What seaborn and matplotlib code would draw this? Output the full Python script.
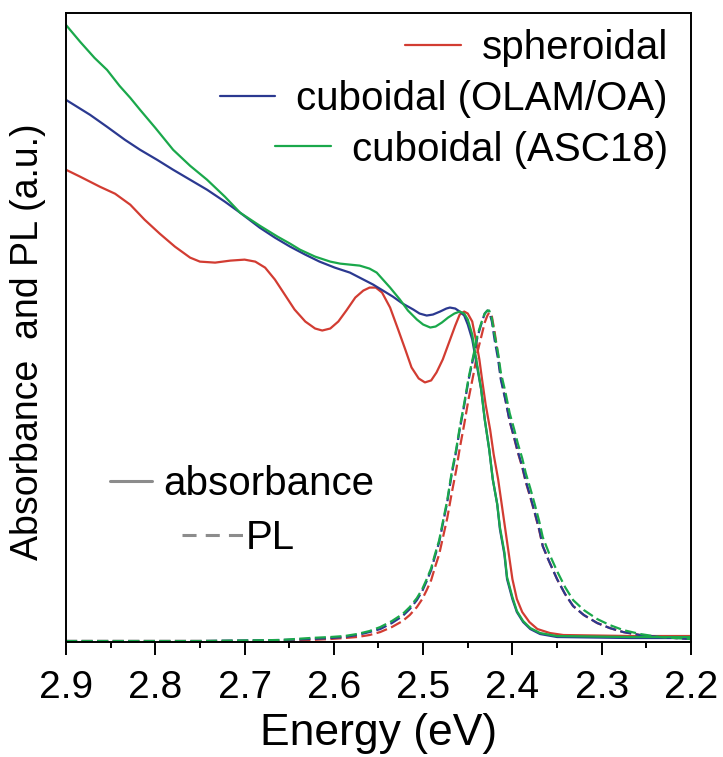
import numpy as np
import pandas as pd
import seaborn as sns
import matplotlib.pyplot as plt
from matplotlib.lines import Line2D

# absorbance spectra (energy in eV, intensity in a.u.)
E_abs_sph = [2.900, 2.884, 2.862, 2.845, 2.828, 2.812, 2.795, 2.778, 2.761, 2.750, 2.733,
             2.716, 2.700, 2.688, 2.677, 2.666, 2.655, 2.644, 2.632, 2.621, 2.613, 2.604,
             2.595, 2.586, 2.576, 2.567, 2.560, 2.553, 2.546, 2.537, 2.528, 2.520, 2.513,
             2.505, 2.498, 2.491, 2.485, 2.478, 2.471, 2.464, 2.459, 2.454, 2.450, 2.445,
             2.441, 2.437, 2.434, 2.430, 2.425, 2.421, 2.416, 2.412, 2.408, 2.404, 2.400,
             2.395, 2.389, 2.381, 2.372, 2.358, 2.343, 2.268, 2.200]
A_sph = [4.72, 4.65, 4.55, 4.48, 4.37, 4.22, 4.08, 3.95, 3.84, 3.80, 3.79,
         3.81, 3.82, 3.80, 3.74, 3.62, 3.47, 3.32, 3.20, 3.13, 3.11, 3.13,
         3.20, 3.31, 3.44, 3.51, 3.54, 3.54, 3.49, 3.34, 3.12, 2.92, 2.74,
         2.63, 2.59, 2.61, 2.69, 2.82, 2.99, 3.16, 3.27, 3.30, 3.28, 3.20,
         3.02, 2.82, 2.62, 2.37, 2.12, 1.87, 1.62, 1.37, 1.12, 0.87, 0.62,
         0.42, 0.29, 0.19, 0.12, 0.08, 0.06, 0.05, 0.05]

E_abs_olam = [2.900, 2.873, 2.854, 2.834, 2.817, 2.798, 2.780, 2.761, 2.742, 2.722, 2.705,
              2.683, 2.666, 2.649, 2.632, 2.616, 2.599, 2.582, 2.569, 2.556, 2.545, 2.534,
              2.523, 2.511, 2.504, 2.496, 2.489, 2.481, 2.474, 2.470, 2.464, 2.459, 2.454,
              2.450, 2.445, 2.442, 2.439, 2.435, 2.431, 2.426, 2.422, 2.417, 2.414, 2.409,
              2.406, 2.400, 2.395, 2.388, 2.380, 2.369, 2.350, 2.268, 2.200]
A_olam = [5.42, 5.27, 5.15, 5.02, 4.92, 4.82, 4.72, 4.62, 4.52, 4.40, 4.29,
          4.14, 4.04, 3.95, 3.87, 3.80, 3.74, 3.69, 3.63, 3.57, 3.51, 3.45,
          3.38, 3.32, 3.28, 3.26, 3.27, 3.30, 3.33, 3.34, 3.33, 3.30, 3.26,
          3.17, 3.02, 2.87, 2.72, 2.52, 2.22, 1.92, 1.62, 1.37, 1.12, 0.87,
          0.62, 0.42, 0.29, 0.19, 0.12, 0.07, 0.04, 0.03, 0.03]

E_abs_asc = [2.900, 2.884, 2.868, 2.854, 2.840, 2.828, 2.817, 2.800, 2.780, 2.761, 2.742,
             2.722, 2.705, 2.683, 2.663, 2.649, 2.638, 2.621, 2.604, 2.593, 2.582, 2.571,
             2.560, 2.552, 2.545, 2.537, 2.526, 2.517, 2.507, 2.500, 2.492, 2.486, 2.479,
             2.472, 2.465, 2.459, 2.454, 2.450, 2.445, 2.442, 2.439, 2.435, 2.431, 2.426,
             2.422, 2.417, 2.414, 2.409, 2.406, 2.400, 2.395, 2.388, 2.380, 2.369, 2.350,
             2.268, 2.200]
A_asc = [6.17, 6.00, 5.84, 5.72, 5.56, 5.44, 5.32, 5.14, 4.92, 4.76, 4.62,
         4.45, 4.29, 4.16, 4.05, 3.98, 3.92, 3.85, 3.80, 3.78, 3.77, 3.76,
         3.73, 3.69, 3.62, 3.54, 3.42, 3.31, 3.22, 3.17, 3.14, 3.15, 3.19,
         3.24, 3.28, 3.30, 3.28, 3.22, 3.07, 2.90, 2.74, 2.52, 2.22, 1.92,
         1.62, 1.37, 1.14, 0.89, 0.64, 0.44, 0.30, 0.20, 0.13, 0.08, 0.05,
         0.04, 0.04]

# PL spectra (same energy grid for all three)
E_pl = [2.900, 2.750, 2.660, 2.627, 2.604, 2.588, 2.574, 2.560, 2.548, 2.535, 2.523,
        2.515, 2.507, 2.501, 2.496, 2.491, 2.487, 2.482, 2.478, 2.473, 2.468, 2.463,
        2.459, 2.454, 2.449, 2.443, 2.439, 2.434, 2.431, 2.428, 2.426, 2.423, 2.420,
        2.416, 2.413, 2.408, 2.403, 2.398, 2.394, 2.389, 2.385, 2.380, 2.375, 2.370,
        2.366, 2.359, 2.350, 2.341, 2.332, 2.320, 2.305, 2.291, 2.276, 2.257, 2.235,
        2.200]
PL_sph = [0.00, 0.00, 0.00, 0.01, 0.02, 0.03, 0.04, 0.06, 0.09, 0.14, 0.20,
          0.26, 0.34, 0.42, 0.51, 0.61, 0.73, 0.87, 1.03, 1.23, 1.48, 1.71,
          1.93, 2.17, 2.43, 2.70, 2.90, 3.08, 3.19, 3.26, 3.29, 3.25, 3.10,
          2.86, 2.64, 2.43, 2.20, 2.03, 1.89, 1.74, 1.59, 1.44, 1.28, 1.11,
          0.95, 0.80, 0.62, 0.47, 0.35, 0.26, 0.18, 0.13, 0.09, 0.06, 0.04,
          0.02]
PL_olam = [0.00, 0.00, 0.01, 0.02, 0.03, 0.04, 0.06, 0.09, 0.12, 0.18, 0.25,
           0.32, 0.41, 0.50, 0.60, 0.71, 0.84, 0.99, 1.17, 1.39, 1.67, 1.90,
           2.12, 2.36, 2.62, 2.87, 3.05, 3.20, 3.28, 3.31, 3.30, 3.20, 3.02,
           2.82, 2.62, 2.42, 2.20, 2.04, 1.90, 1.75, 1.60, 1.45, 1.29, 1.12,
           0.95, 0.80, 0.62, 0.47, 0.35, 0.26, 0.18, 0.13, 0.09, 0.06, 0.04,
           0.02]
PL_asc = [0.00, 0.00, 0.01, 0.03, 0.04, 0.05, 0.07, 0.10, 0.14, 0.20, 0.27,
          0.34, 0.43, 0.52, 0.62, 0.73, 0.86, 1.01, 1.19, 1.41, 1.69, 1.92,
          2.14, 2.38, 2.64, 2.89, 3.07, 3.21, 3.28, 3.31, 3.31, 3.23, 3.07,
          2.88, 2.69, 2.50, 2.28, 2.12, 1.98, 1.83, 1.68, 1.53, 1.37, 1.20,
          1.04, 0.88, 0.70, 0.54, 0.41, 0.31, 0.22, 0.16, 0.11, 0.07, 0.04,
          0.02]

labels = ['spheroidal', 'cuboidal (OLAM/OA)', 'cuboidal (ASC18)']
colors = ['#d23c32', '#2b3990', '#1aa84b']
tick_vals = [2.9, 2.8, 2.7, 2.6, 2.5, 2.4, 2.3, 2.2]

sns.set_style('ticks')
plt.rcParams['font.family'] = ['Liberation Sans', 'DejaVu Sans']
plt.rcParams['text.color'] = 'black'
plt.rcParams['axes.labelcolor'] = 'black'
plt.rcParams['xtick.color'] = 'black'

fig = plt.figure(figsize=(7.23, 7.57), dpi=100)
ax = fig.add_axes([0.0913, 0.1519, 0.8644, 0.8309])

abs_sets = [(E_abs_sph, A_sph), (E_abs_olam, A_olam), (E_abs_asc, A_asc)]
pl_sets = [PL_sph, PL_olam, PL_asc]

for (e, a), pl, c in zip(abs_sets, pl_sets, colors):
    sns.lineplot(x=e, y=a, color=c, lw=1.6, estimator=None, sort=False, ax=ax)
    sns.lineplot(x=E_pl, y=pl, color=c, lw=1.6, estimator=None, sort=False, ax=ax,
                 linestyle=(0, (5, 2)))

ax.set_xlim(2.9, 2.2)
ax.set_ylim(-0.01, 6.29)
ax.set_xticks(tick_vals)
ax.set_xticks(np.arange(2.25, 2.9, 0.1), minor=True)
ax.set_xticklabels(['%.1f' % v for v in tick_vals])
ax.set_yticks([])
ax.tick_params(axis='x', which='major', direction='out', length=9, width=1.4,
               labelsize=28, pad=11)
ax.tick_params(axis='x', which='minor', direction='out', length=4.5, width=1.4)
for s in ax.spines.values():
    s.set_linewidth(1.4)
    s.set_color('black')

ax.set_xlabel('Energy (eV)', fontsize=32, labelpad=5)
ax.set_ylabel('Absorbance  and PL (a.u.)', fontsize=27)
ax.yaxis.set_label_coords(-0.032, 0.477)

# sample legends, one per entry so texts right-align like the original
ypos = [0.944, 0.863, 0.783]
for lab, c, yy in zip(labels, colors, ypos):
    lg = ax.legend([Line2D([], [], color=c, lw=1.6)], [lab], loc='center right',
                   bbox_to_anchor=(0.963, yy), frameon=False, fontsize=29,
                   handlelength=1.38, handletextpad=0.52, borderpad=0, borderaxespad=0)
    ax.add_artist(lg)

lg = ax.legend([Line2D([], [], color='#8c8c8c', lw=2.2)], ['absorbance'], loc='center left',
               bbox_to_anchor=(0.07, 0.251), frameon=False, fontsize=29,
               handlelength=1.05, handletextpad=0.27, borderpad=0, borderaxespad=0)
ax.add_artist(lg)
ax.legend([Line2D([], [], color='#8c8c8c', lw=2.2, linestyle=(0, (4.6, 3)))], ['PL'],
          loc='center left', bbox_to_anchor=(0.186, 0.165), frameon=False, fontsize=29,
          handlelength=1.52, handletextpad=0.05, borderpad=0, borderaxespad=0)

fig.savefig('out.png', dpi=100)
